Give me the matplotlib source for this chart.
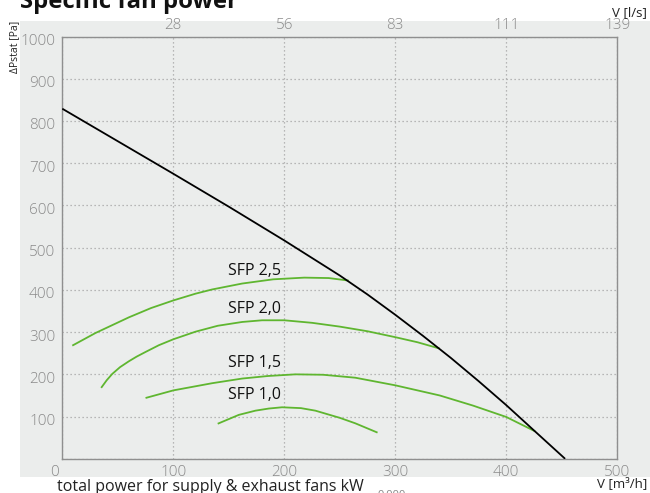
import matplotlib
matplotlib.use("Agg")
import matplotlib.pyplot as plt
from matplotlib.transforms import ScaledTranslation

# ---------------- data ----------------
# system (fan) curve: airflow m3/h vs static pressure Pa
sys_x = [0, 50, 100, 150, 200, 250, 275, 300, 325, 350, 375, 400, 425, 453]
sys_y = [829, 752, 675, 597, 517, 434, 389, 341, 291, 239, 184, 127, 67, 0]

sfp25_x = [9, 30, 60, 80, 100, 120, 135, 162, 190, 218, 240, 258]
sfp25_y = [268, 298, 335, 357, 375, 391, 401, 415, 425, 429, 428, 422]

sfp20_x = [35, 40, 45, 52, 60, 67, 75, 87, 100, 120, 140, 162, 180, 200, 225, 250, 275, 300, 320, 340]
sfp20_y = [168, 186, 201, 217, 231, 242, 253, 269, 283, 301, 315, 324, 328, 328, 322, 313, 302, 288, 276, 261]

sfp15_x = [75, 100, 135, 162, 185, 210, 235, 264, 300, 340, 370, 400, 426]
sfp15_y = [144, 162, 179, 190, 196, 200, 199, 192, 174, 150, 126, 99, 65]

sfp10_x = [140, 159, 174, 186, 198, 215, 228, 250, 264, 284]
sfp10_y = [83, 104, 114, 119, 122, 120, 114, 97, 84, 62]

sfp_labels = ["SFP 2,5", "SFP 2,0", "SFP 1,5", "SFP 1,0"]

x_ticks = [0, 100, 200, 300, 400, 500]
x_ticklabels = ["0", "100", "200", "300", "400", "500"]
top_ticks = [100, 200, 300, 400, 500]
top_ticklabels = ["28", "56", "83", "111", "139"]
y_ticks = [0, 100, 200, 300, 400, 500, 600, 700, 800, 900, 1000]
y_ticklabels = ["", "100", "200", "300", "400", "500", "600", "700", "800", "900", "1000"]

# ---------------- style ----------------
FONT = ["Open Sans", "DejaVu Sans"]
plt.rcParams["font.family"] = FONT
W, H = 650, 493
BG = "#ebedec"
GREEN = "#5fb630"
TICKC = "#8a8a8a"
SPINEC = "#8f8f8f"

fig = plt.figure(figsize=(W / 100, H / 100), dpi=100, facecolor="white")
bgax = fig.add_axes([20 / W, 1 - 477 / H, 630 / W, 456.5 / H], zorder=-10)
bgax.set_facecolor(BG)
bgax.set_xticks([])
bgax.set_yticks([])
for s in bgax.spines.values():
    s.set_visible(False)

left, right, top, bottom = 62.3, 617.3, 36.5, 458.8
ax = fig.add_axes([left / W, 1 - bottom / H, (right - left) / W, (bottom - top) / H])
ax.set_facecolor("none")
ax.set_xlim(0, 500)
ax.set_ylim(0, 1000)

for s in ax.spines.values():
    s.set_color(SPINEC)
    s.set_linewidth(1.0)

ax.set_xticks(x_ticks)
ax.set_xticklabels(x_ticklabels)
ax.set_yticks(y_ticks)
ax.set_yticklabels(y_ticklabels)
ax.tick_params(axis="x", length=0, pad=4.5, labelsize=11, labelcolor=TICKC)
ax.tick_params(axis="y", length=0, pad=5, labelsize=11, labelcolor=TICKC)
for lbl in ax.get_xticklabels() + ax.get_yticklabels():
    lbl.set_fontweight("light")
ax.grid(True, color="#a5a5a5", linestyle=(0, (1, 2.2)), linewidth=0.9)
ax.set_axisbelow(True)

# shift y labels slightly down, and "0" label left
for lbl in ax.get_yticklabels():
    lbl.set_transform(lbl.get_transform() + ScaledTranslation(0, -3 / 100, fig.dpi_scale_trans))
xl = ax.get_xticklabels()
xl[0].set_transform(xl[0].get_transform() + ScaledTranslation(-8 / 100, 0, fig.dpi_scale_trans))

ax2 = ax.twiny()
ax2.set_xlim(ax.get_xlim())
ax2.set_xticks(top_ticks)
ax2.set_xticklabels(top_ticklabels)
ax2.tick_params(axis="x", length=0, pad=2.5, labelsize=11, labelcolor=TICKC)
for lbl in ax2.get_xticklabels():
    lbl.set_fontweight("light")
for s in ax2.spines.values():
    s.set_visible(False)

# curves
ax.plot(sys_x, sys_y, color="black", lw=1.3, zorder=4, solid_capstyle="butt")
for xs, ys in [(sfp25_x, sfp25_y), (sfp20_x, sfp20_y), (sfp15_x, sfp15_y), (sfp10_x, sfp10_y)]:
    ax.plot(xs, ys, color=GREEN, lw=1.3, zorder=3, solid_capstyle="butt")

label_pos = [(149.5, 444), (149.5, 354), (149.5, 228), (149.5, 152)]
for (lx, ly), t in zip(label_pos, sfp_labels):
    ax.text(lx, ly, t, ha="left", va="center", fontsize=11.5, color="#111111", zorder=5)

# figure texts
fig.text(20 / W, 1 - 7.5 / H, "Specific fan power", fontsize=17.2, fontweight="bold",
         va="baseline", ha="left", color="#111111")
fig.text(15 / W, 1 - 20.5 / H, "ΔPstat [Pa]", rotation=90, ha="center", va="top",
         fontsize=7.5, color="#222222")
fig.text(647 / W, 1 - 13 / H, "V [l/s]", ha="right", va="center", fontsize=9.5, color="#222222")
fig.text(647 / W, 1 - 483.5 / H, "V [m³/h]", ha="right", va="center", fontsize=9.5, color="#222222")
fig.text(57 / W, 1 - 491 / H, "total power for supply & exhaust fans kW", ha="left",
         va="baseline", fontsize=11.5, color="#222222")
fig.text(378 / W, 1 - 490 / H, "0,000", ha="left", va="top", fontsize=8, color="#888888")

fig.savefig("out.png", dpi=100, facecolor="white")
